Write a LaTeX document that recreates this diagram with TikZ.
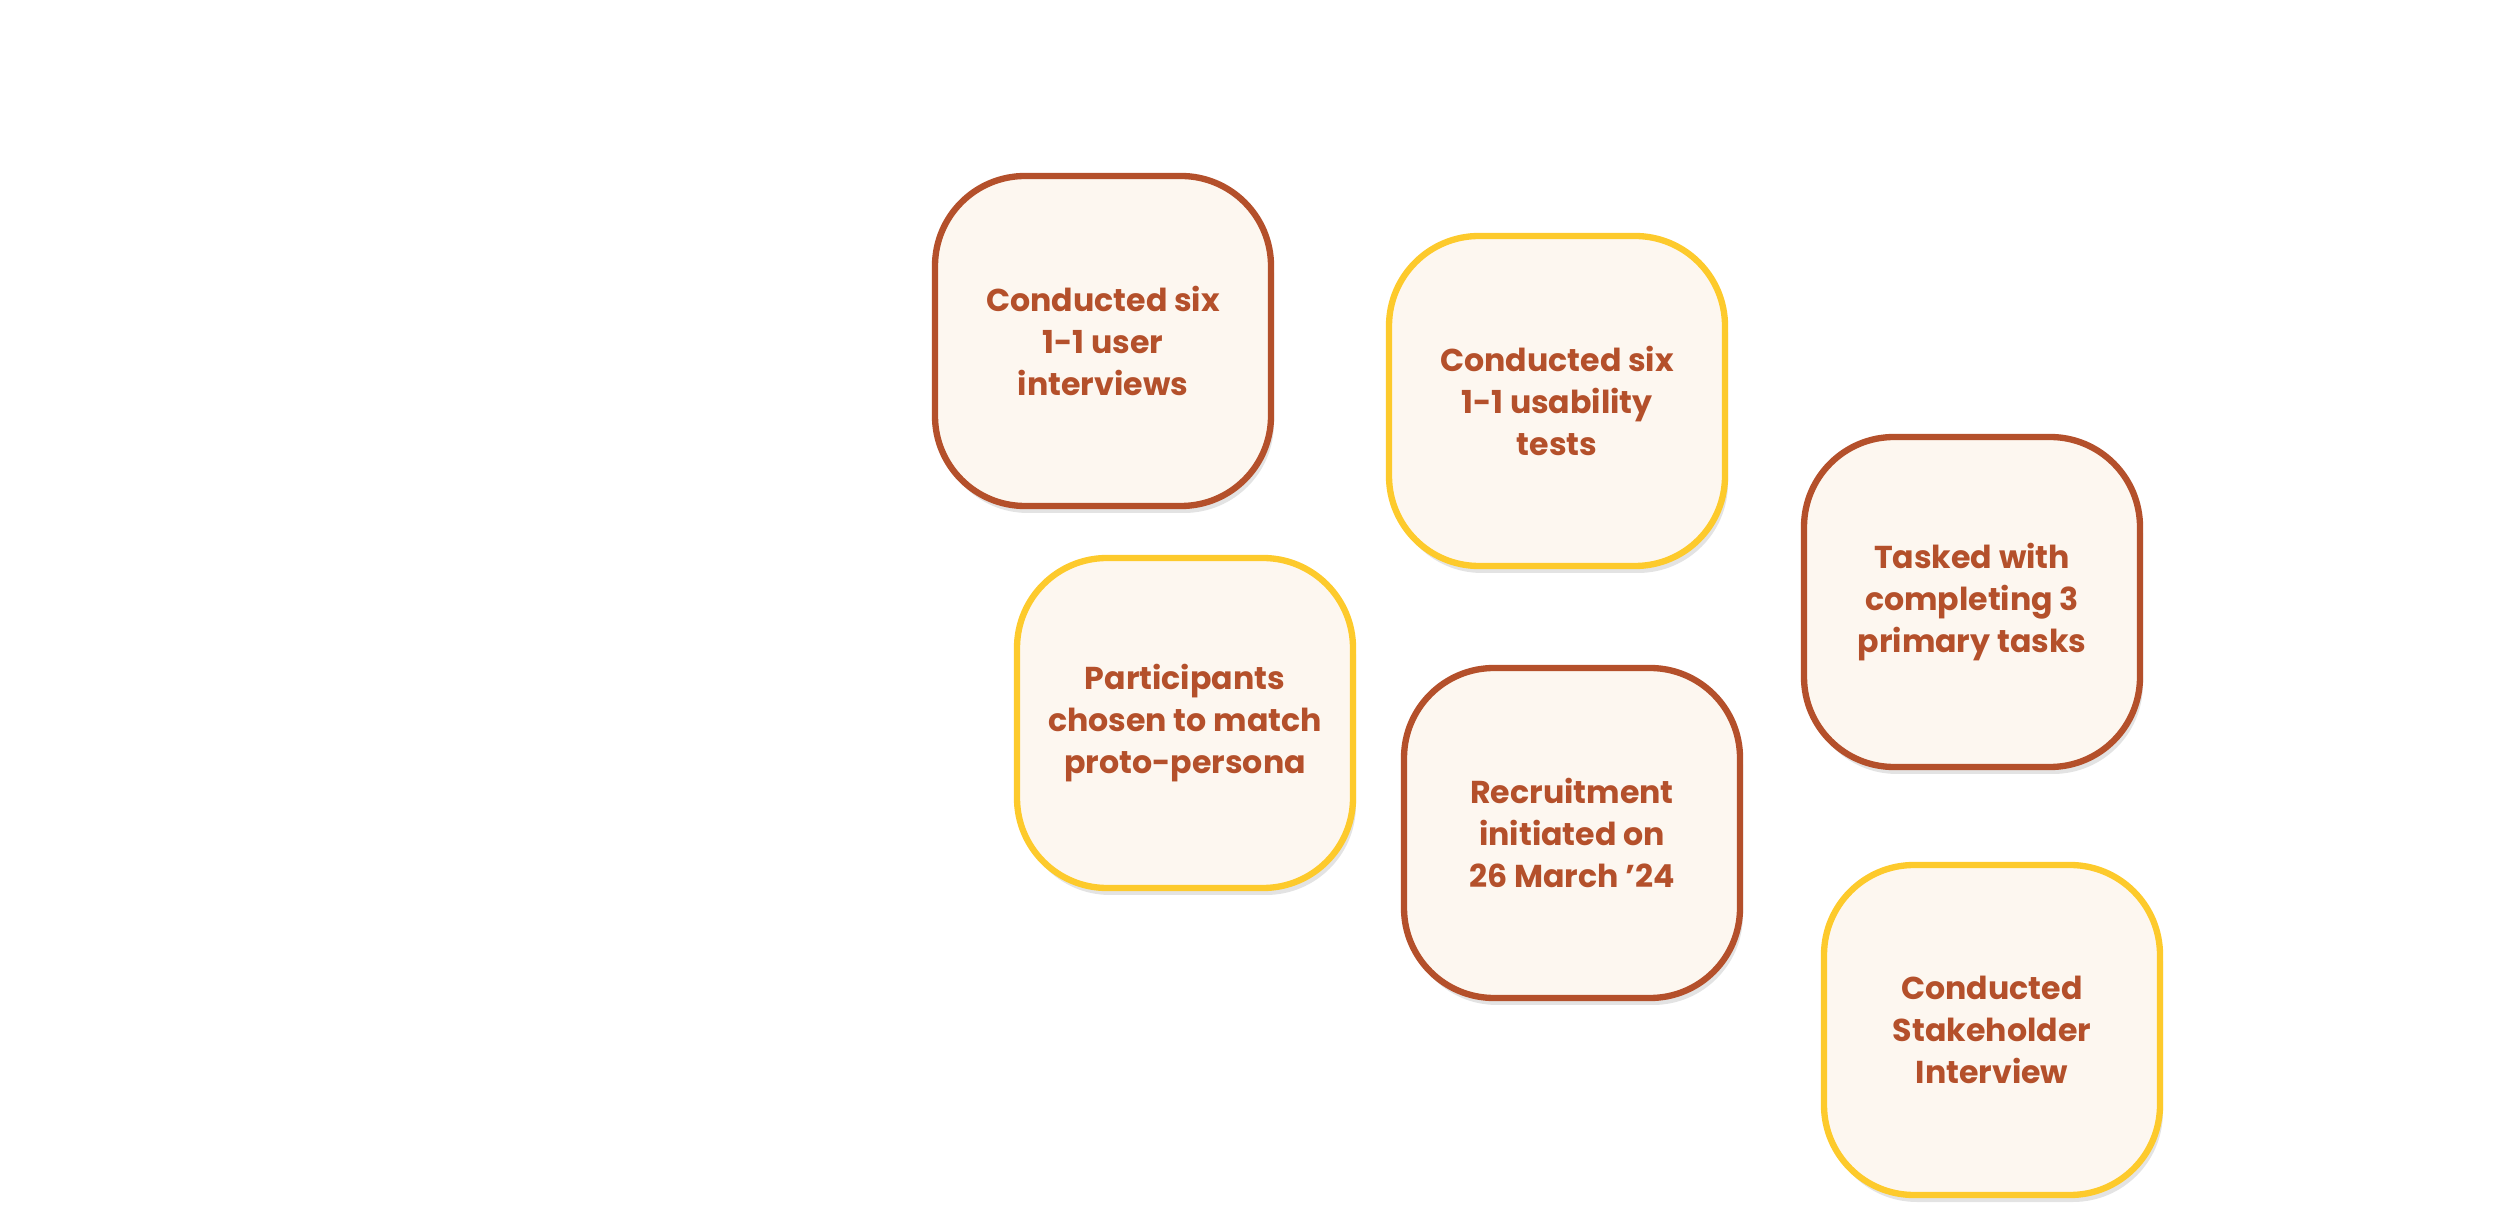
\documentclass[tikz,border=0pt]{standalone}
\usepackage{fontspec}
\setmainfont{Poppins}
\usetikzlibrary{shadows}
\definecolor{rust}{HTML}{B4502B}
\definecolor{gold}{HTML}{FDCA2C}
\definecolor{cream}{HTML}{FDF7F0}

\begin{document}
\begin{tikzpicture}[
    card/.style={rounded corners=0.9cm, fill=cream, line width=1.8pt,
        minimum width=3.36cm, minimum height=3.3cm, align=center,
        text=rust, font=\bfseries\fontsize{9}{12}\selectfont,
        drop shadow={opacity=0.22, shadow xshift=0.03cm, shadow yshift=-0.07cm}},
    rustcard/.style={card, draw=rust},
    goldcard/.style={card, draw=gold}]

    \useasboundingbox (0,0) rectangle (24.96,-12.16);

    \node[rustcard] (interviews) at (11.03,-3.41) {Conducted six\\1-1 user\\interviews};
    \node[goldcard] (usability) at (15.57,-4.01) {Conducted six\\1-1 usability\\tests};
    \node[rustcard] (tasks) at (19.72,-6.02) {Tasked with\\completing 3\\primary tasks};
    \node[goldcard] (participants) at (11.85,-7.23) {Participants\\chosen to match\\proto-persona};
    \node[rustcard] (recruitment) at (15.72,-8.33) {Recruitment\\initiated on\\26 March ’24};
    \node[goldcard] (stakeholder) at (19.92,-10.30) {Conducted\\Stakeholder\\Interview};

\end{tikzpicture}
\end{document}
